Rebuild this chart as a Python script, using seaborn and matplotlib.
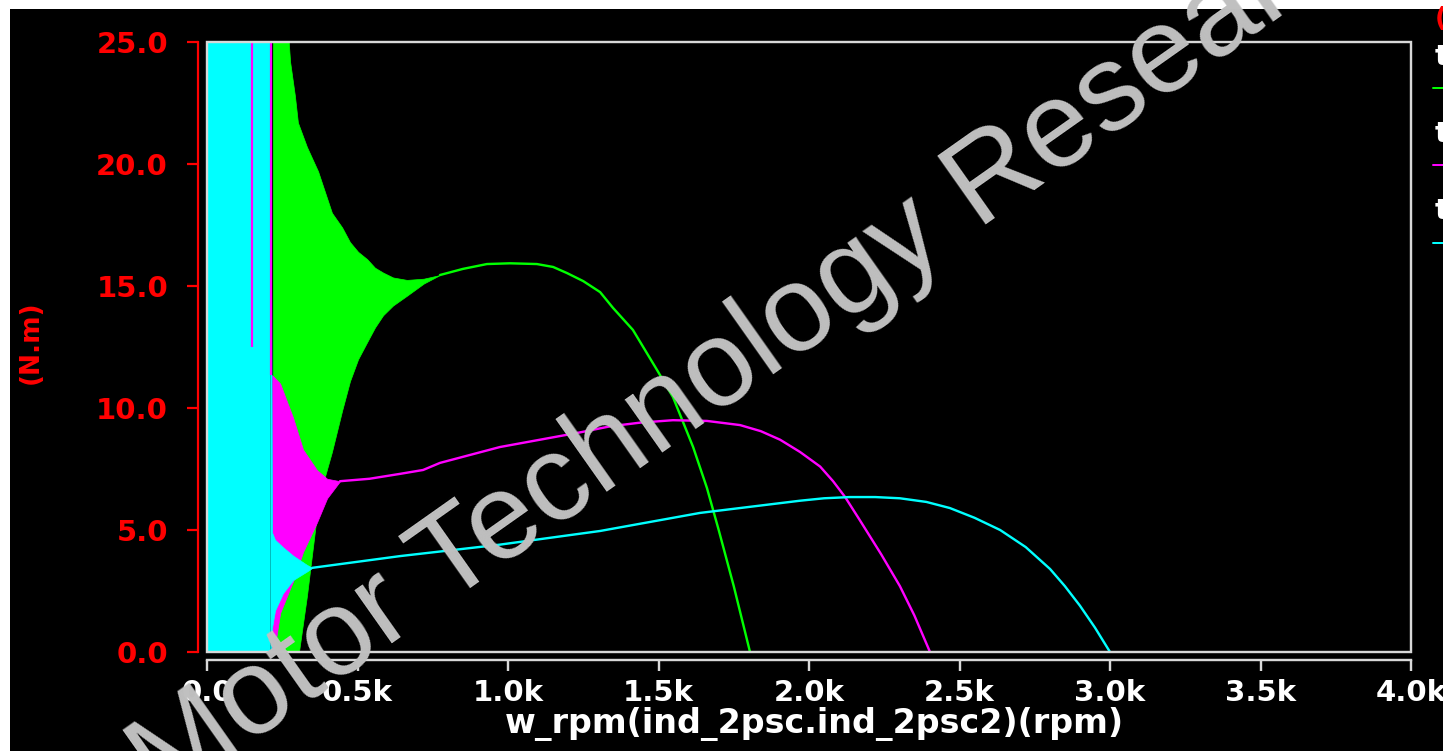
import matplotlib
matplotlib.use("Agg")
import matplotlib.pyplot as plt
from matplotlib.patches import Rectangle
from matplotlib.lines import Line2D
import pandas as pd
import seaborn as sns

# ---- torque / speed data (rpm, N.m) ----
# steady-state branches after the start-up transient
green_rpm = [774, 850, 930, 1007, 1096, 1150, 1196, 1250, 1306, 1349, 1415, 1495, 1548, 1615, 1661, 1700, 1750, 1804]
green_torque = [15.45, 15.7, 15.9, 15.93, 15.9, 15.78, 15.53, 15.2, 14.75, 14.1, 13.2, 11.56, 10.45, 8.4, 6.72, 5.0, 2.7, 0.0]

magenta_rpm = [442, 540, 641, 718, 774, 973, 1239, 1340, 1439, 1548, 1661, 1771, 1840, 1904,
               1970, 2037, 2080, 2120, 2169, 2240, 2302, 2350, 2402]
magenta_torque = [7.0, 7.1, 7.3, 7.46, 7.75, 8.4, 9.0, 9.25, 9.4, 9.5, 9.47, 9.3, 9.05, 8.7,
                  8.2, 7.6, 7.0, 6.35, 5.4, 4.0, 2.7, 1.5, 0.0]

cyan_rpm = [350, 641, 973, 1306, 1638, 1970, 2050, 2136, 2220, 2302, 2390, 2468, 2550, 2635,
            2720, 2801, 2850, 2900, 2950, 3000]
cyan_torque = [3.45, 3.93, 4.4, 4.96, 5.7, 6.2, 6.3, 6.35, 6.35, 6.3, 6.15, 5.9, 5.5, 5.0,
               4.3, 3.4, 2.7, 1.9, 1.0, 0.0]

# start-up oscillation envelopes (upper / lower torque)
green_env_rpm = [219, 266, 276, 292, 302, 332, 369, 392, 415, 449, 475, 502, 532, 558, 585, 618, 664, 720, 774]
green_env_hi = [26, 26, 24.2, 22.8, 21.7, 20.7, 19.7, 18.85, 18.0, 17.4, 16.8, 16.4, 16.1, 15.75, 15.55, 15.35, 15.25, 15.3, 15.45]
green_env_lo = [-1, -1, -1, -1, -0.3, 2.3, 6.0, 7.2, 8.2, 9.9, 11.1, 12.0, 12.7, 13.3, 13.8, 14.2, 14.6, 15.1, 15.45]

magenta_env_rpm = [216, 243, 286, 319, 365, 399, 442]
magenta_env_hi = [11.35, 11.0, 9.6, 8.3, 7.46, 7.1, 7.0]
magenta_env_lo = [-0.5, 1.6, 2.9, 4.1, 5.3, 6.3, 7.0]
magenta_spike_rpm = [150, 214]
magenta_spike_lo = [12.5, 11.35]

cyan_block_rpm = [0, 210]
cyan_env_rpm = [210, 216, 226, 252, 286, 332, 350]
cyan_env_hi = [26, 4.9, 4.6, 4.3, 3.95, 3.57, 3.45]
cyan_env_lo = [-1, 1.0, 1.7, 2.4, 2.95, 3.3, 3.45]

y_ticks = [0, 5, 10, 15, 20, 25]
y_tick_labels = ["0.0", "5.0", "10.0", "15.0", "20.0", "25.0"]
x_ticks = [0, 500, 1000, 1500, 2000, 2500, 3000, 3500, 4000]
x_tick_labels = ["0.0", "0.5k", "1.0k", "1.5k", "2.0k", "2.5k", "3.0k", "3.5k", "4.0k"]

GREEN, MAGENTA, CYAN = "#00ff00", "#ff00ff", "#00ffff"
FRAME = "#d8d8d8"

sns.set_theme(style="dark")
plt.rcParams["font.family"] = ["DejaVu Sans"]
plt.rcParams["font.weight"] = "bold"

W, H = 1443, 751
PT = 72 / 100  # points per pixel at dpi 100

fig = plt.figure(figsize=(W / 100, H / 100), dpi=100)
fig.patch.set_facecolor("white")
fig.add_artist(Rectangle((10 / W, 0), 1, (H - 9) / H, transform=fig.transFigure,
                         facecolor="black", edgecolor="none", zorder=-10))

ax = fig.add_axes([207 / W, (H - 652) / H, 1204 / W, 610 / H])
ax.set_facecolor("black")

# start-up transient regions
ax.fill_between(green_env_rpm, green_env_lo, green_env_hi, color=GREEN, lw=0.5, zorder=2)
ax.fill_between(magenta_env_rpm, magenta_env_lo, magenta_env_hi, color=MAGENTA, lw=0.5, zorder=3)
ax.fill_between(cyan_block_rpm, [-1, -1], [26, 26], color=CYAN, lw=0, zorder=4)
ax.fill_between(cyan_env_rpm, cyan_env_lo, cyan_env_hi, color=CYAN, lw=0.5, zorder=4)
ax.vlines(magenta_spike_rpm, magenta_spike_lo, [26, 26], color=MAGENTA, lw=2.2 * PT, zorder=5)

# steady-state torque curves
df = pd.concat([
    pd.DataFrame({"speed": green_rpm, "torque": green_torque, "trace": "g"}),
    pd.DataFrame({"speed": magenta_rpm, "torque": magenta_torque, "trace": "m"}),
    pd.DataFrame({"speed": cyan_rpm, "torque": cyan_torque, "trace": "c"}),
], ignore_index=True)
sns.lineplot(data=df, x="speed", y="torque", hue="trace",
             palette={"g": GREEN, "m": MAGENTA, "c": CYAN},
             sort=False, estimator=None, legend=False, lw=2.4 * PT, ax=ax, zorder=6)

ax.set_xlim(0, 4000)
ax.set_ylim(0, 25)
ax.set_xlabel("")
ax.set_ylabel("")
ax.grid(False)

# plot frame
for side in ("top", "right"):
    ax.spines[side].set_visible(False)
ax.add_patch(Rectangle((0, 0), 1, 1, transform=ax.transAxes, fill=False,
                       edgecolor=FRAME, lw=2.4 * PT, clip_on=False, zorder=7))

# detached axes lines
ax.spines["left"].set_position(("outward", 9 * PT))
ax.spines["left"].set_color("red")
ax.spines["left"].set_linewidth(2.2 * PT)
ax.spines["left"].set_visible(True)
ax.spines["bottom"].set_position(("outward", 8 * PT))
ax.spines["bottom"].set_color(FRAME)
ax.spines["bottom"].set_linewidth(2.4 * PT)
ax.spines["bottom"].set_visible(True)

ax.set_yticks(y_ticks)
ax.set_yticklabels(y_tick_labels)
ax.set_xticks(x_ticks)
ax.set_xticklabels(x_tick_labels)
ax.tick_params(axis="y", which="major", left=True, direction="out", length=11 * PT,
               width=2.2 * PT, color="red", labelcolor="red", pad=19 * PT, labelsize=21)
ax.tick_params(axis="x", which="major", bottom=True, direction="out", length=11 * PT,
               width=2.4 * PT, color=FRAME, labelcolor="white", pad=8 * PT, labelsize=21)
for lbl in ax.get_xticklabels() + ax.get_yticklabels():
    lbl.set_fontweight("bold")

fig.text(814 / W, 1 - 724 / H, "w_rpm(ind_2psc.ind_2psc2)(rpm)", ha="center", va="center",
         color="white", fontsize=24, fontweight="bold")
fig.text(31 / W, 1 - 342 / H, "(N.m)", ha="center", va="center", rotation=90,
         color="red", fontsize=19, fontweight="bold")

# trace legend along the right edge (clipped by the figure edge)
fig.text(1435 / W, 1 - 6 / H, "(N.m)", ha="left", va="top", color="red", fontsize=19, fontweight="bold")
for y_txt, y_line, col in ((43, 88, GREEN), (120, 165, MAGENTA), (197, 243, CYAN)):
    fig.text(1435 / W, 1 - y_txt / H, "te(ind_2psc.ind_2psc2)", ha="left", va="top",
             color="white", fontsize=21, fontweight="bold")
    fig.add_artist(Line2D([1433 / W, 1.05], [1 - y_line / H] * 2, color=col, lw=2 * PT))

# watermark
fig.text(164 / W, (H - 805) / H, "Motor Technology Research", ha="left", va="baseline",
         rotation=35.2, rotation_mode="anchor", color="#c0c0c0", fontsize=88,
         family="Liberation Sans", fontweight="normal", zorder=20)

fig.savefig("out.png", dpi=100, facecolor=fig.get_facecolor())
